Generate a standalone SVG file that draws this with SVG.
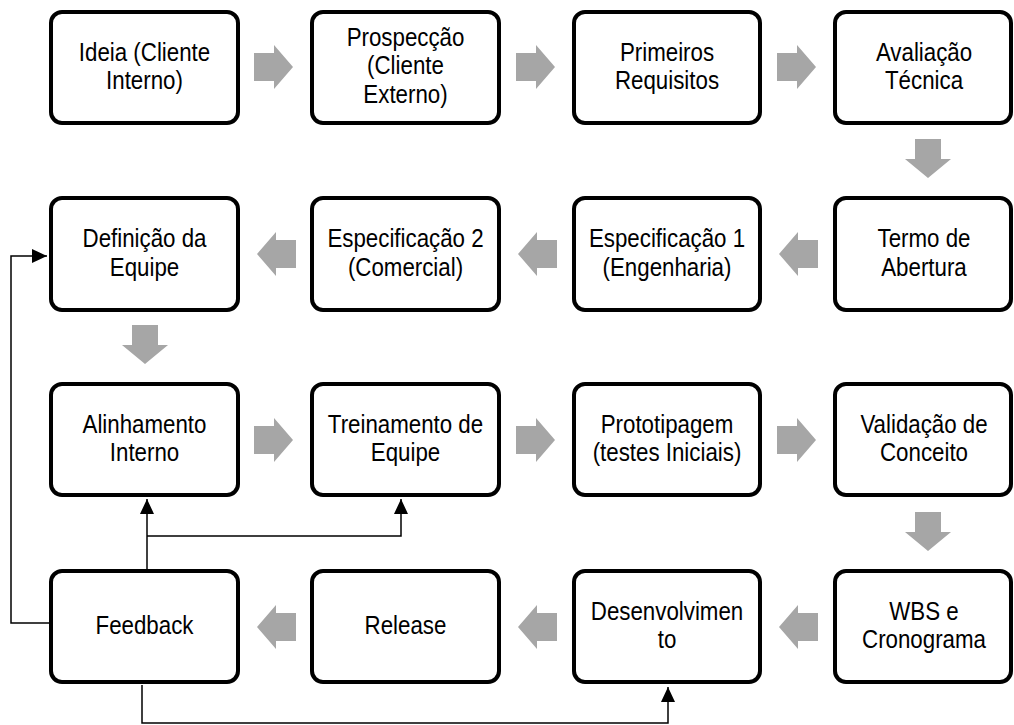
<svg xmlns="http://www.w3.org/2000/svg" width="1014" height="725" viewBox="0 0 1014 725">
<defs>
<style>
.box{fill:#fff;stroke:#000;stroke-width:4}
.t{font-family:"Liberation Sans",Arial,sans-serif;font-size:25.5px;fill:#000;text-anchor:middle}
.ar{fill:#a6a6a6}
.cn{fill:none;stroke:#000;stroke-width:1.5}
</style>
<path id="ra" d="M-20,-14 H0 V-22 L19,0 L0,22 V14 H-20 Z"/>
<path id="la" d="M20,-14 H0 V-22 L-19,0 L0,22 V14 H20 Z"/>
<path id="da" d="M-13,-20 H13 V0 H23 L0,19 L-23,0 H-13 Z"/>
<marker id="ah" markerUnits="userSpaceOnUse" markerWidth="16" markerHeight="14" refX="15" refY="7" orient="auto">
<path d="M0,0 L15,7 L0,14 Z" fill="#000"/>
</marker>
</defs>
<rect width="1014" height="725" fill="#fff"/>

<g id="connectors">
<g class="ar">
<use href="#ra" x="274" y="67"/>
<use href="#ra" x="536" y="67"/>
<use href="#ra" x="797" y="67"/>
<use href="#da" x="928" y="159"/>
<use href="#la" x="798" y="254"/>
<use href="#la" x="537" y="254"/>
<use href="#la" x="276" y="254"/>
<use href="#da" x="145" y="345"/>
<use href="#ra" x="274" y="440"/>
<use href="#ra" x="536" y="440"/>
<use href="#ra" x="797" y="440"/>
<use href="#da" x="928" y="532"/>
<use href="#la" x="798" y="627"/>
<use href="#la" x="537" y="627"/>
<use href="#la" x="276" y="627"/>
</g>
<path class="cn" d="M49,623 H11 V256 H47" marker-end="url(#ah)"/>
<path class="cn" d="M147,569 V499" marker-end="url(#ah)"/>
<path class="cn" d="M147,536 H401 V499" marker-end="url(#ah)"/>
<path class="cn" d="M142,685 V723 H668 V687" marker-end="url(#ah)"/>
</g>

<g id="n1"><rect class="box" x="51" y="12" width="187" height="111" rx="11"/>
<text class="t" transform="matrix(0.875 0 0 1 144.5 0)"><tspan x="0" y="61">Ideia (Cliente</tspan><tspan x="0" y="89.5">Interno)</tspan></text></g>
<g id="n2"><rect class="box" x="312" y="12" width="187" height="111" rx="11"/>
<text class="t" transform="matrix(0.875 0 0 1 405.5 0)"><tspan x="0" y="46">Prospecção</tspan><tspan x="0" y="74.5">(Cliente</tspan><tspan x="0" y="103">Externo)</tspan></text></g>
<g id="n3"><rect class="box" x="574" y="12" width="186" height="111" rx="11"/>
<text class="t" transform="matrix(0.875 0 0 1 667 0)"><tspan x="0" y="61">Primeiros</tspan><tspan x="0" y="89.5">Requisitos</tspan></text></g>
<g id="n4"><rect class="box" x="835" y="12" width="176" height="111" rx="11"/>
<text class="t" transform="matrix(0.875 0 0 1 924 0)"><tspan x="0" y="61">Avaliação</tspan><tspan x="0" y="89.5">Técnica</tspan></text></g>

<g id="n5"><rect class="box" x="835" y="198" width="176" height="112" rx="11"/>
<text class="t" transform="matrix(0.875 0 0 1 924 0)"><tspan x="0" y="247.5">Termo de</tspan><tspan x="0" y="276">Abertura</tspan></text></g>
<g id="n6"><rect class="box" x="574" y="198" width="186" height="112" rx="11"/>
<text class="t" transform="matrix(0.875 0 0 1 667 0)"><tspan x="0" y="247.5">Especificação 1</tspan><tspan x="0" y="276">(Engenharia)</tspan></text></g>
<g id="n7"><rect class="box" x="312" y="198" width="187" height="112" rx="11"/>
<text class="t" transform="matrix(0.875 0 0 1 405.5 0)"><tspan x="0" y="247.5">Especificação 2</tspan><tspan x="0" y="276">(Comercial)</tspan></text></g>
<g id="n8"><rect class="box" x="51" y="198" width="187" height="112" rx="11"/>
<text class="t" transform="matrix(0.875 0 0 1 144.5 0)"><tspan x="0" y="247.5">Definição da</tspan><tspan x="0" y="276">Equipe</tspan></text></g>

<g id="n9"><rect class="box" x="51" y="384" width="187" height="111" rx="11"/>
<text class="t" transform="matrix(0.875 0 0 1 144.5 0)"><tspan x="0" y="433">Alinhamento</tspan><tspan x="0" y="461.5">Interno</tspan></text></g>
<g id="n10"><rect class="box" x="312" y="384" width="187" height="111" rx="11"/>
<text class="t" transform="matrix(0.875 0 0 1 405.5 0)"><tspan x="0" y="433">Treinamento de</tspan><tspan x="0" y="461.5">Equipe</tspan></text></g>
<g id="n11"><rect class="box" x="574" y="384" width="186" height="111" rx="11"/>
<text class="t" transform="matrix(0.875 0 0 1 667 0)"><tspan x="0" y="433">Prototipagem</tspan><tspan x="0" y="461.5">(testes Iniciais)</tspan></text></g>
<g id="n12"><rect class="box" x="835" y="384" width="176" height="111" rx="11"/>
<text class="t" transform="matrix(0.875 0 0 1 924 0)"><tspan x="0" y="433">Validação de</tspan><tspan x="0" y="461.5">Conceito</tspan></text></g>

<g id="n13"><rect class="box" x="835" y="571" width="176" height="111" rx="11"/>
<text class="t" transform="matrix(0.875 0 0 1 924 0)"><tspan x="0" y="620">WBS e</tspan><tspan x="0" y="648.5">Cronograma</tspan></text></g>
<g id="n14"><rect class="box" x="574" y="571" width="186" height="111" rx="11"/>
<text class="t" transform="matrix(0.875 0 0 1 667 0)"><tspan x="0" y="620">Desenvolvimen</tspan><tspan x="0" y="648.5">to</tspan></text></g>
<g id="n15"><rect class="box" x="312" y="571" width="187" height="111" rx="11"/>
<text class="t" transform="matrix(0.875 0 0 1 405.5 0)"><tspan x="0" y="634.5">Release</tspan></text></g>
<g id="n16"><rect class="box" x="51" y="571" width="187" height="111" rx="11"/>
<text class="t" transform="matrix(0.875 0 0 1 144.5 0)"><tspan x="0" y="634.5">Feedback</tspan></text></g>
</svg>
